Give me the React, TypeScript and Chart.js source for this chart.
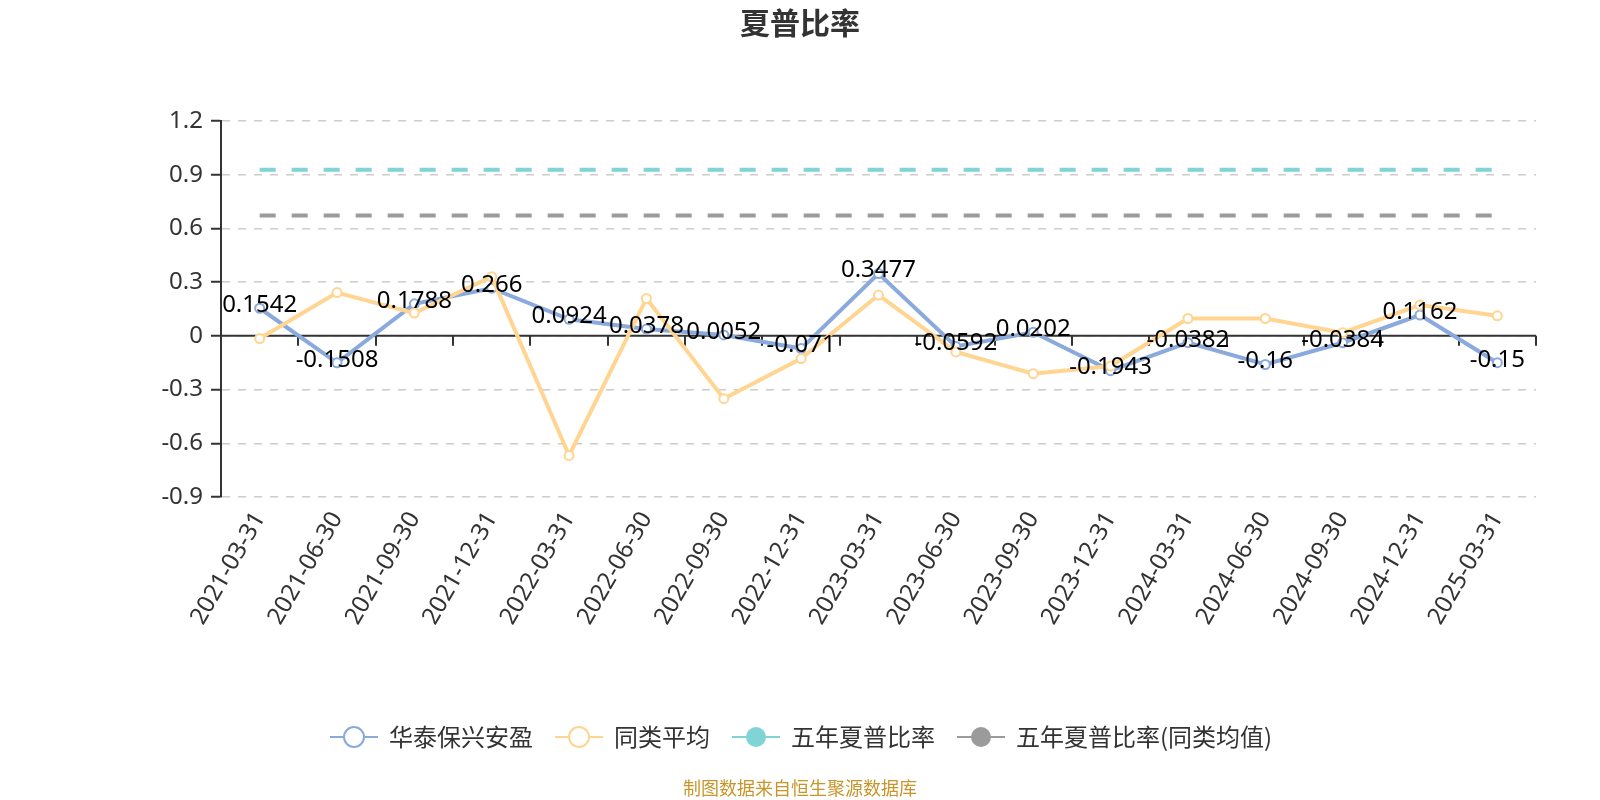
import React, { useEffect, useRef } from 'react';
import { Chart, registerables } from 'chart.js';

Chart.register(...registerables);

const categories = [
  '2021-03-31', '2021-06-30', '2021-09-30', '2021-12-31',
  '2022-03-31', '2022-06-30', '2022-09-30', '2022-12-31',
  '2023-03-31', '2023-06-30', '2023-09-30', '2023-12-31',
  '2024-03-31', '2024-06-30', '2024-09-30', '2024-12-31',
  '2025-03-31',
];

const fundValues = [
  0.1542, -0.1508, 0.1788, 0.266, 0.0924, 0.0378, 0.0052, -0.071, 0.3477,
  -0.0592, 0.0202, -0.1943, -0.0382, -0.16, -0.0384, 0.1162, -0.15,
];

const peerAvgValues = [
  -0.015, 0.242, 0.127, 0.33, -0.668, 0.209, -0.351, -0.127, 0.228,
  -0.09, -0.211, -0.168, 0.097, 0.097, 0.018, 0.172, 0.112,
];

const fiveYearSharpe = [
  0.928, 0.928, 0.928, 0.928, 0.928, 0.928, 0.928, 0.928, 0.928,
  0.928, 0.928, 0.928, 0.928, 0.928, 0.928, 0.928, 0.928,
];

const fiveYearPeerSharpe = [
  0.672, 0.672, 0.672, 0.672, 0.672, 0.672, 0.672, 0.672, 0.672,
  0.672, 0.672, 0.672, 0.672, 0.672, 0.672, 0.672, 0.672,
];

const seriesNames = ['华泰保兴安盈', '同类平均', '五年夏普比率', '五年夏普比率(同类均值)'];
const seriesColors = ['#8aa9dc', '#ffd591', '#80d4d6', '#9b9b9b'];
const legendHollow = [true, true, false, false];

const Y_MIN = -0.9;
const Y_MAX = 1.2;
const Y_STEP = 0.3;

const TITLE = '夏普比率';
const FOOTER = '制图数据来自恒生聚源数据库';

const FONT = "'Noto Sans', 'Noto Sans CJK SC', sans-serif";
const CJK_FONT = "'Noto Sans CJK SC', 'Noto Sans', sans-serif";

const overlayPlugin = {
  id: 'overlay',
  beforeDatasetsDraw(chart: any) {
    const { ctx, chartArea } = chart;
    const y0 = chart.scales.y.getPixelForValue(0);
    ctx.save();
    ctx.strokeStyle = '#333';
    ctx.lineWidth = 2;
    ctx.beginPath();
    ctx.moveTo(chartArea.left, y0);
    ctx.lineTo(chartArea.right, y0);
    ctx.stroke();
    const n = categories.length;
    const w = (chartArea.right - chartArea.left) / n;
    for (let k = 0; k <= n; k++) {
      const x = Math.round(chartArea.left + k * w);
      ctx.beginPath();
      ctx.moveTo(x, y0);
      ctx.lineTo(x, y0 + 10);
      ctx.stroke();
    }
    ctx.restore();
  },
  afterDatasetsDraw(chart: any) {
    const { ctx } = chart;
    const meta = chart.getDatasetMeta(0);
    ctx.save();
    ctx.font = `24px ${FONT}`;
    ctx.fillStyle = '#000';
    ctx.textAlign = 'center';
    ctx.textBaseline = 'middle';
    meta.data.forEach((pt: any, i: number) => {
      ctx.fillText(String(fundValues[i]), pt.x, pt.y - 3);
    });
    ctx.restore();
  },
  afterDraw(chart: any) {
    const { ctx } = chart;
    ctx.save();
    // title
    ctx.font = `bold 30px ${CJK_FONT}`;
    ctx.fillStyle = '#333';
    ctx.textAlign = 'center';
    ctx.textBaseline = 'middle';
    ctx.fillText(TITLE, 800, 23);
    // footer
    ctx.font = `18px ${CJK_FONT}`;
    ctx.fillStyle = '#c8952a';
    ctx.fillText(FOOTER, 800, 788);
    // legend
    ctx.font = `24px ${CJK_FONT}`;
    ctx.textAlign = 'left';
    const ly = 737;
    let x = 330;
    seriesNames.forEach((name, i) => {
      const c = seriesColors[i];
      ctx.strokeStyle = c;
      ctx.lineWidth = 2;
      ctx.beginPath();
      ctx.moveTo(x, ly);
      ctx.lineTo(x + 48, ly);
      ctx.stroke();
      ctx.beginPath();
      ctx.arc(x + 24, ly, 10, 0, Math.PI * 2);
      if (legendHollow[i]) {
        ctx.fillStyle = '#fff';
        ctx.fill();
        ctx.stroke();
      } else {
        ctx.fillStyle = c;
        ctx.fill();
      }
      ctx.fillStyle = '#333';
      const tx = x + 59;
      ctx.fillText(name, tx, ly);
      x = tx + ctx.measureText(name).width + 22;
    });
    ctx.restore();
  },
};

export default function App() {
  const ref = useRef<HTMLCanvasElement | null>(null);
  useEffect(() => {
    if (!ref.current) return;
    const chart = new Chart(ref.current, {
      type: 'line',
      data: {
        labels: categories,
        datasets: [
          {
            label: seriesNames[0],
            data: fundValues,
            borderColor: seriesColors[0],
            backgroundColor: '#fff',
            borderWidth: 4,
            pointRadius: 4.5,
            pointBorderWidth: 2,
            pointBackgroundColor: '#fff',
            pointBorderColor: seriesColors[0],
            tension: 0,
            order: 1,
          },
          {
            label: seriesNames[1],
            data: peerAvgValues,
            borderColor: seriesColors[1],
            backgroundColor: '#fff',
            borderWidth: 4,
            pointRadius: 4.5,
            pointBorderWidth: 2,
            pointBackgroundColor: '#fff',
            pointBorderColor: seriesColors[1],
            tension: 0,
            order: 0,
          },
          {
            label: seriesNames[2],
            data: fiveYearSharpe,
            borderColor: seriesColors[2],
            borderWidth: 4,
            borderDash: [16, 16],
            pointRadius: 0,
            order: 2,
          },
          {
            label: seriesNames[3],
            data: fiveYearPeerSharpe,
            borderColor: seriesColors[3],
            borderWidth: 4,
            borderDash: [16, 16],
            pointRadius: 0,
            order: 3,
          },
        ],
      },
      options: {
        responsive: false,
        animation: false,
        layout: { padding: { left: 0, right: 64, top: 121, bottom: 0 }, autoPadding: false },
        plugins: {
          legend: { display: false },
          title: { display: false },
          tooltip: { enabled: false },
        },
        scales: {
          x: {
            type: 'category',
            offset: true,
            grid: { display: false, drawTicks: false },
            border: { display: false },
            ticks: {
              autoSkip: false,
              minRotation: 60,
              maxRotation: 60,
              padding: 10,
              color: '#333',
              font: { size: 24, family: FONT },
            },
            afterFit: (scale: any) => {
              scale.height = 303;
            },
          },
          y: {
            min: Y_MIN,
            max: Y_MAX,
            grid: {
              color: '#ccc',
              lineWidth: 1.5,
              drawTicks: true,
              tickLength: 10,
              tickColor: '#333',
              tickWidth: 2,
              tickBorderDash: [],
            },
            border: { display: true, color: '#333', width: 2, dash: [8, 8] },
            ticks: {
              stepSize: Y_STEP,
              padding: 8,
              color: '#333',
              font: { size: 24, family: FONT },
              callback: (v: any) => String(Number(Number(v).toFixed(1))),
            },
            afterFit: (scale: any) => {
              scale.width = 221;
            },
          },
        },
      },
      plugins: [overlayPlugin],
    } as any);
    return () => chart.destroy();
  }, []);
  return (
    <div style={{ position: 'absolute', left: 0, top: 0, width: 1600, height: 800, background: '#fff' }}>
      <canvas ref={ref} width={1600} height={800} style={{ display: 'block' }} />
    </div>
  );
}
